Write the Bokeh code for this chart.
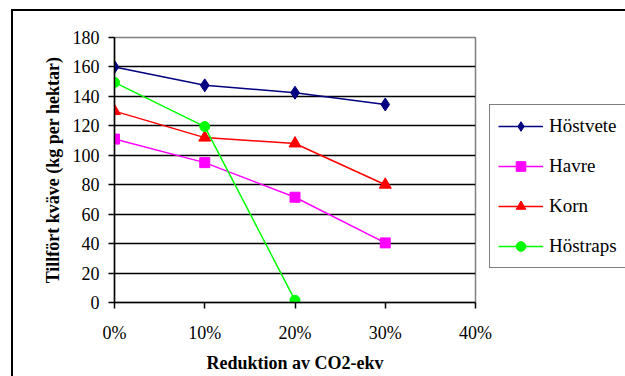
from bokeh.plotting import figure
from bokeh.models import Legend, LegendItem, FixedTicker, Range1d
from bokeh.embed import file_html
from bokeh.resources import INLINE

x_vals = [0, 10, 20, 30]
hostvete = [160, 147.5, 142.5, 134.5]
havre = [111, 95, 71.5, 40.5]
korn = [130, 112, 108, 80]
hostraps_x = [0, 10, 20]
hostraps = [149.5, 119.5, 1.5]
x_ticks = [0, 10, 20, 30, 40]
x_tick_labels = ["0%", "10%", "20%", "30%", "40%"]
y_ticks = [0, 20, 40, 60, 80, 100, 120, 140, 160, 180]

FONT = "'Liberation Serif', 'Times New Roman', serif"

p = figure(frame_width=361, frame_height=265, output_backend="svg", toolbar_location=None,
           x_range=Range1d(0, 40), y_range=Range1d(0, 180),
           min_border_left=101, min_border_right=150, min_border_top=26, min_border_bottom=74)
p.margin = (9, 0, 0, 11)
p.styles = {"border-top": "2px solid black", "border-left": "2px solid black"}
p.background_fill_color = "white"
p.border_fill_color = "white"
p.outline_line_color = "#808080"
p.outline_line_width = 1.5

p.xgrid.grid_line_color = None
p.ygrid.grid_line_color = "black"
p.ygrid.grid_line_width = 1.5
p.ygrid.ticker = FixedTicker(ticks=y_ticks)

p.yaxis.ticker = FixedTicker(ticks=y_ticks)
p.xaxis.ticker = FixedTicker(ticks=x_ticks)
p.xaxis.major_label_overrides = {t: l for t, l in zip(x_ticks, x_tick_labels)}
for ax in (p.xaxis[0], p.yaxis[0]):
    ax.axis_line_color = "black"
    ax.axis_line_width = 1.5
    ax.major_tick_line_color = "black"
    ax.major_tick_line_width = 1.5
    ax.major_tick_out = 6
    ax.major_tick_in = 0
    ax.minor_tick_line_color = None
    ax.major_label_text_font = FONT
    ax.major_label_text_font_size = "18px"
    ax.major_label_text_color = "black"
    ax.axis_label_text_font = FONT
    ax.axis_label_text_font_size = "18px"
    ax.axis_label_text_font_style = "bold"
    ax.axis_label_text_color = "black"
p.xaxis.major_label_standoff = 14
p.yaxis.major_label_standoff = 9
p.xaxis.axis_label = "Reduktion av CO2-ekv"
p.yaxis.axis_label = "Tillfört kväve (kg per hektar)"
p.xaxis.axis_label_standoff = 7
p.yaxis.axis_label_standoff = 7

r1 = p.line(x_vals, hostvete, line_color="#000080", line_width=1.5)
m1 = p.scatter(x_vals, hostvete, marker="diamond", size=13, fill_color="#000080", line_color="#000080")
r2 = p.line(x_vals, havre, line_color="#FF00FF", line_width=1.5)
m2 = p.scatter(x_vals, havre, marker="square", size=10, fill_color="#FF00FF", line_color="#FF00FF")
r3 = p.line(x_vals, korn, line_color="#FF0000", line_width=1.5)
m3 = p.scatter(x_vals, korn, marker="triangle", size=12, fill_color="#FF0000", line_color="#FF0000")
r4 = p.line(hostraps_x, hostraps, line_color="#00FF00", line_width=1.5)
m4 = p.scatter(hostraps_x, hostraps, marker="circle", size=10, fill_color="#00FF00", line_color="#00FF00")

legend = Legend(items=[
    LegendItem(label="Höstvete", renderers=[r1, m1]),
    LegendItem(label="Havre", renderers=[r2, m2]),
    LegendItem(label="Korn", renderers=[r3, m3]),
    LegendItem(label="Höstraps", renderers=[r4, m4]),
], location=(14, 34))
legend.label_text_font = FONT
legend.label_text_font_size = "19px"
legend.label_text_color = "black"
legend.label_height = 26
legend.glyph_height = 24
legend.border_line_color = "black"
legend.border_line_width = 1.5
legend.glyph_width = 45
legend.spacing = 14
legend.padding = 8
legend.margin = 0
legend.label_standoff = 6
legend.background_fill_alpha = 1
p.add_layout(legend, "right")

open("out.html", "w").write(file_html(p, INLINE))
